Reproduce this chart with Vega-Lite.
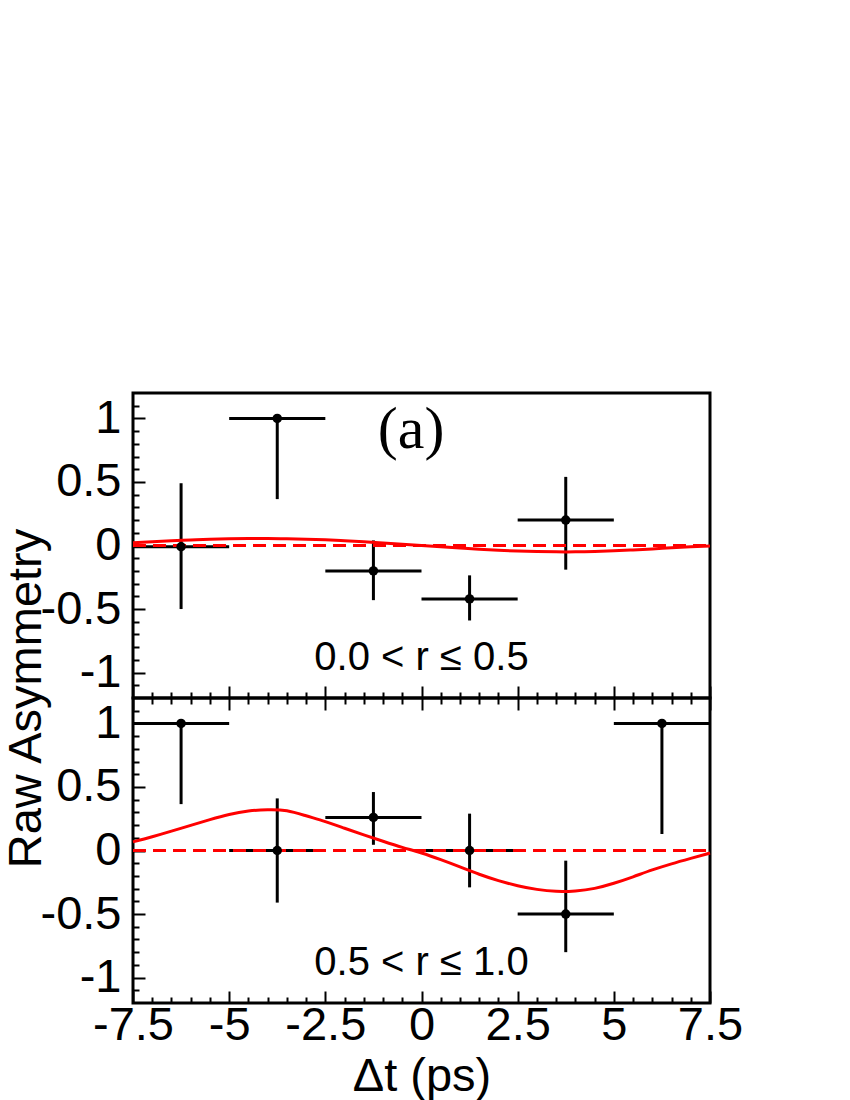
{
  "$schema": "https://vega.github.io/schema/vega-lite/v6.json",
  "background": "white",
  "padding": {"left": 0, "top": 380, "right": 0, "bottom": 0},
  "spacing": 0,
  "bounds": "flush",
  "config": {
    "view": {"stroke": "black", "strokeWidth": 3},
    "axis": {
      "domain": false, "grid": false, "tickColor": "black", "tickWidth": 2,
      "labelColor": "black", "labelFont": "Liberation Sans", "labelFontSize": 47,
      "labelFlush": false, "labelOverlap": false, "labelBound": false,
      "titleFont": "Liberation Sans", "titleFontSize": 47, "titleFontWeight": "normal", "titleColor": "black"
    }
  },
  "datasets": {
    "zero": [{"t": -7.5, "a": 0}, {"t": 7.5, "a": 0}],
    "ptsTop": [
      {"t": -6.25, "a": -0.01, "tlo": -7.5, "thi": -5, "alo": -0.5, "ahi": 0.49},
      {"t": -3.75, "a": 1.0, "tlo": -5, "thi": -2.5, "alo": 0.365, "ahi": 1.0},
      {"t": -1.25, "a": -0.2, "tlo": -2.5, "thi": 0, "alo": -0.43, "ahi": 0.04},
      {"t": 1.25, "a": -0.42, "tlo": 0, "thi": 2.5, "alo": -0.59, "ahi": -0.235},
      {"t": 3.75, "a": 0.2, "tlo": 2.5, "thi": 5, "alo": -0.19, "ahi": 0.54}
    ],
    "ptsBot": [
      {"t": -6.25, "a": 1.0, "tlo": -7.5, "thi": -5, "alo": 0.365, "ahi": 1.0},
      {"t": -3.75, "a": 0.0, "tlo": -5, "thi": -2.5, "alo": -0.41, "ahi": 0.41},
      {"t": -1.25, "a": 0.26, "tlo": -2.5, "thi": 0, "alo": 0.045, "ahi": 0.46},
      {"t": 1.25, "a": 0.0, "tlo": 0, "thi": 2.5, "alo": -0.29, "ahi": 0.29},
      {"t": 3.75, "a": -0.5, "tlo": 2.5, "thi": 5, "alo": -0.8, "ahi": -0.08},
      {"t": 6.25, "a": 1.0, "tlo": 5, "thi": 7.5, "alo": 0.13, "ahi": 1.0}
    ],
    "curveTop": [
      {"t": -7.5, "a": 0.022}, {"t": -7, "a": 0.03}, {"t": -6.5, "a": 0.037}, {"t": -6, "a": 0.043},
      {"t": -5.5, "a": 0.049}, {"t": -5, "a": 0.053}, {"t": -4.5, "a": 0.055}, {"t": -4, "a": 0.055},
      {"t": -3.5, "a": 0.053}, {"t": -3, "a": 0.05}, {"t": -2.5, "a": 0.045}, {"t": -2, "a": 0.038},
      {"t": -1.5, "a": 0.03}, {"t": -1, "a": 0.02}, {"t": -0.5, "a": 0.01}, {"t": 0, "a": 0.0},
      {"t": 0.5, "a": -0.01}, {"t": 1, "a": -0.02}, {"t": 1.5, "a": -0.03}, {"t": 2, "a": -0.038},
      {"t": 2.5, "a": -0.044}, {"t": 3, "a": -0.048}, {"t": 3.5, "a": -0.05}, {"t": 4, "a": -0.05},
      {"t": 4.5, "a": -0.047}, {"t": 5, "a": -0.042}, {"t": 5.5, "a": -0.035}, {"t": 6, "a": -0.027},
      {"t": 6.5, "a": -0.018}, {"t": 7, "a": -0.01}, {"t": 7.5, "a": -0.003}
    ],
    "curveBot": [
      {"t": -7.5, "a": 0.068}, {"t": -7, "a": 0.108}, {"t": -6.5, "a": 0.152}, {"t": -6, "a": 0.198},
      {"t": -5.5, "a": 0.243}, {"t": -5, "a": 0.283}, {"t": -4.5, "a": 0.31}, {"t": -4, "a": 0.321},
      {"t": -3.5, "a": 0.313}, {"t": -3, "a": 0.273}, {"t": -2.5, "a": 0.227}, {"t": -2, "a": 0.175},
      {"t": -1.5, "a": 0.123}, {"t": -1, "a": 0.073}, {"t": -0.5, "a": 0.025}, {"t": 0, "a": -0.02},
      {"t": 0.5, "a": -0.072}, {"t": 1, "a": -0.129}, {"t": 1.5, "a": -0.187}, {"t": 2, "a": -0.237},
      {"t": 2.5, "a": -0.277}, {"t": 3, "a": -0.306}, {"t": 3.5, "a": -0.321}, {"t": 4, "a": -0.318},
      {"t": 4.5, "a": -0.298}, {"t": 5, "a": -0.258}, {"t": 5.5, "a": -0.207}, {"t": 6, "a": -0.153},
      {"t": 6.5, "a": -0.105}, {"t": 7, "a": -0.062}, {"t": 7.5, "a": -0.02}
    ]
  },
  "vconcat": [
    {
      "width": 577, "height": 305,
      "resolve": {"axis": {"x": "independent", "y": "independent"}},
      "layer": [
        {"data": {"name": "ptsTop"}, "mark": {"type": "rule", "color": "black", "strokeWidth": 3},
          "encoding": {
            "x": {"field": "tlo", "type": "quantitative", "axis": null, "scale": {"domain": [-7.5, 7.5], "nice": false, "zero": false}},
            "x2": {"field": "thi"},
            "y": {"field": "a", "type": "quantitative", "axis": null, "scale": {"domain": [-1.2, 1.2], "nice": false, "zero": false}}}},
        {"data": {"name": "ptsTop"}, "mark": {"type": "rule", "color": "black", "strokeWidth": 3},
          "encoding": {
            "x": {"field": "t", "type": "quantitative", "axis": null, "scale": {"domain": [-7.5, 7.5], "nice": false, "zero": false}},
            "y": {"field": "alo", "type": "quantitative", "axis": null, "scale": {"domain": [-1.2, 1.2], "nice": false, "zero": false}},
            "y2": {"field": "ahi"}}},
        {"data": {"name": "zero"}, "mark": {"type": "line", "color": "red", "strokeWidth": 3, "strokeDash": [13, 7]},
          "encoding": {
            "x": {"field": "t", "type": "quantitative",
              "scale": {"domain": [-7.5, 7.5], "nice": false, "zero": false},
              "axis": {"orient": "bottom", "labels": false, "title": null,
                "values": [-7.5,-7,-6.5,-6,-5.5,-5,-4.5,-4,-3.5,-3,-2.5,-2,-1.5,-1,-0.5,0,0.5,1,1.5,2,2.5,3,3.5,4,4.5,5,5.5,6,6.5,7,7.5],
                "tickSize": {"condition": {"test": "abs(datum.value/2.5 - round(datum.value/2.5)) < 0.001", "value": -12}, "value": -6}}},
            "y": {"field": "a", "type": "quantitative",
              "scale": {"domain": [-1.2, 1.2], "nice": false, "zero": false},
              "axis": {"orient": "left", "title": "Raw Asymmetry", "titleX": -93, "titleY": 305, "titleAlign": "center", "titleBaseline": "alphabetic", "titleAngle": 270,
                "values": [-1.1,-1,-0.9,-0.8,-0.7,-0.6,-0.5,-0.4,-0.3,-0.2,-0.1,0,0.1,0.2,0.3,0.4,0.5,0.6,0.7,0.8,0.9,1,1.1],
                "labelExpr": "abs(datum.value*2 - round(datum.value*2)) < 0.001 ? '' + datum.value : ''",
                "labelPadding": 24,
                "tickSize": {"condition": {"test": "abs(datum.value*2 - round(datum.value*2)) < 0.001", "value": -12}, "value": -6}}}}},
        {"data": {"name": "curveTop"}, "mark": {"type": "line", "color": "red", "strokeWidth": 3, "interpolate": "natural"},
          "encoding": {
            "x": {"field": "t", "type": "quantitative", "axis": null, "scale": {"domain": [-7.5, 7.5], "nice": false, "zero": false}},
            "y": {"field": "a", "type": "quantitative", "axis": null, "scale": {"domain": [-1.2, 1.2], "nice": false, "zero": false}}}},
        {"data": {"name": "ptsTop"}, "mark": {"type": "point", "shape": "circle", "filled": true, "size": 90, "color": "black", "opacity": 1},
          "encoding": {
            "x": {"field": "t", "type": "quantitative", "axis": null, "scale": {"domain": [-7.5, 7.5], "nice": false, "zero": false}},
            "y": {"field": "a", "type": "quantitative", "axis": null, "scale": {"domain": [-1.2, 1.2], "nice": false, "zero": false}}}},
        {"data": {"values": [{"t": -0.27, "a": 0.77, "label": "(a)"}]},
          "mark": {"type": "text", "font": "Liberation Serif", "fontSize": 60, "align": "center", "baseline": "alphabetic", "color": "black"},
          "encoding": {
            "x": {"field": "t", "type": "quantitative", "axis": null, "scale": {"domain": [-7.5, 7.5], "nice": false, "zero": false}},
            "y": {"field": "a", "type": "quantitative", "axis": null, "scale": {"domain": [-1.2, 1.2], "nice": false, "zero": false}},
            "text": {"field": "label"}}},
        {"data": {"values": [{"t": 0, "a": -0.976, "label": "0.0 < r ≤ 0.5"}]},
          "mark": {"type": "text", "font": "Liberation Sans", "fontSize": 40, "align": "center", "baseline": "alphabetic", "color": "black"},
          "encoding": {
            "x": {"field": "t", "type": "quantitative", "axis": null, "scale": {"domain": [-7.5, 7.5], "nice": false, "zero": false}},
            "y": {"field": "a", "type": "quantitative", "axis": null, "scale": {"domain": [-1.2, 1.2], "nice": false, "zero": false}},
            "text": {"field": "label"}}}
      ]
    },
    {
      "width": 577, "height": 305,
      "resolve": {"axis": {"x": "independent", "y": "independent"}},
      "layer": [
        {"data": {"name": "ptsBot"}, "mark": {"type": "rule", "color": "black", "strokeWidth": 3},
          "encoding": {
            "x": {"field": "tlo", "type": "quantitative", "axis": null, "scale": {"domain": [-7.5, 7.5], "nice": false, "zero": false}},
            "x2": {"field": "thi"},
            "y": {"field": "a", "type": "quantitative", "axis": null, "scale": {"domain": [-1.2, 1.2], "nice": false, "zero": false}}}},
        {"data": {"name": "ptsBot"}, "mark": {"type": "rule", "color": "black", "strokeWidth": 3},
          "encoding": {
            "x": {"field": "t", "type": "quantitative", "axis": null, "scale": {"domain": [-7.5, 7.5], "nice": false, "zero": false}},
            "y": {"field": "alo", "type": "quantitative", "axis": null, "scale": {"domain": [-1.2, 1.2], "nice": false, "zero": false}},
            "y2": {"field": "ahi"}}},
        {"data": {"name": "zero"}, "mark": {"type": "line", "color": "red", "strokeWidth": 3, "strokeDash": [13, 7]},
          "encoding": {
            "x": {"field": "t", "type": "quantitative",
              "scale": {"domain": [-7.5, 7.5], "nice": false, "zero": false},
              "axis": {"orient": "bottom", "title": "Δt (ps)", "titlePadding": -1,
                "values": [-7.5,-7,-6.5,-6,-5.5,-5,-4.5,-4,-3.5,-3,-2.5,-2,-1.5,-1,-0.5,0,0.5,1,1.5,2,2.5,3,3.5,4,4.5,5,5.5,6,6.5,7,7.5],
                "labelExpr": "abs(datum.value/2.5 - round(datum.value/2.5)) < 0.001 ? '' + datum.value : ''",
                "labelPadding": 11,
                "tickSize": {"condition": {"test": "abs(datum.value/2.5 - round(datum.value/2.5)) < 0.001", "value": -12}, "value": -6}}},
            "y": {"field": "a", "type": "quantitative",
              "scale": {"domain": [-1.2, 1.2], "nice": false, "zero": false},
              "axis": {"orient": "left", "title": null,
                "values": [-1.1,-1,-0.9,-0.8,-0.7,-0.6,-0.5,-0.4,-0.3,-0.2,-0.1,0,0.1,0.2,0.3,0.4,0.5,0.6,0.7,0.8,0.9,1,1.1],
                "labelExpr": "abs(datum.value*2 - round(datum.value*2)) < 0.001 ? '' + datum.value : ''",
                "labelPadding": 24,
                "tickSize": {"condition": {"test": "abs(datum.value*2 - round(datum.value*2)) < 0.001", "value": -12}, "value": -6}}}}},
        {"data": {"name": "curveBot"}, "mark": {"type": "line", "color": "red", "strokeWidth": 3, "interpolate": "natural"},
          "encoding": {
            "x": {"field": "t", "type": "quantitative", "axis": null, "scale": {"domain": [-7.5, 7.5], "nice": false, "zero": false}},
            "y": {"field": "a", "type": "quantitative", "axis": null, "scale": {"domain": [-1.2, 1.2], "nice": false, "zero": false}}}},
        {"data": {"values": [{"t": 0, "a": -0.976, "label": "0.5 < r ≤ 1.0"}]},
          "mark": {"type": "text", "font": "Liberation Sans", "fontSize": 40, "align": "center", "baseline": "alphabetic", "color": "black"},
          "encoding": {
            "x": {"field": "t", "type": "quantitative", "axis": null, "scale": {"domain": [-7.5, 7.5], "nice": false, "zero": false}},
            "y": {"field": "a", "type": "quantitative", "axis": null, "scale": {"domain": [-1.2, 1.2], "nice": false, "zero": false}},
            "text": {"field": "label"}}},
        {"data": {"name": "ptsBot"}, "mark": {"type": "point", "shape": "circle", "filled": true, "size": 90, "color": "black", "opacity": 1},
          "encoding": {
            "x": {"field": "t", "type": "quantitative",
              "scale": {"domain": [-7.5, 7.5], "nice": false, "zero": false},
              "axis": {"orient": "top", "labels": false, "title": null,
                "values": [-7.5,-7,-6.5,-6,-5.5,-5,-4.5,-4,-3.5,-3,-2.5,-2,-1.5,-1,-0.5,0,0.5,1,1.5,2,2.5,3,3.5,4,4.5,5,5.5,6,6.5,7,7.5],
                "tickSize": {"condition": {"test": "abs(datum.value/2.5 - round(datum.value/2.5)) < 0.001", "value": -12}, "value": -6}}},
            "y": {"field": "a", "type": "quantitative", "axis": null, "scale": {"domain": [-1.2, 1.2], "nice": false, "zero": false}}}}
      ]
    }
  ]
}
